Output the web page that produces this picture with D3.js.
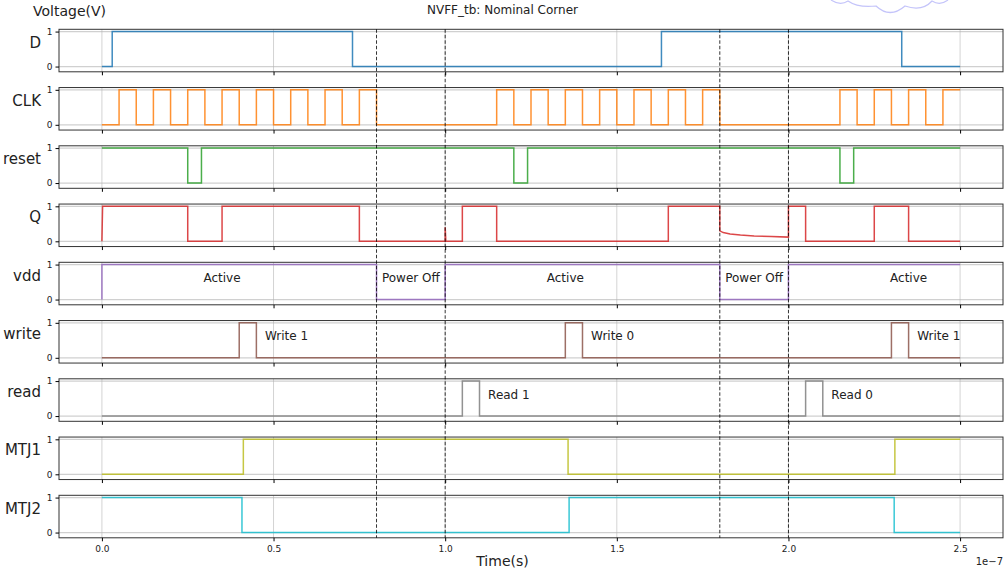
<!DOCTYPE html>
<html lang="en">
<head>
  <meta charset="UTF-8">
  <title>NVFF_tb: Nominal Corner</title>
  <script src="https://d3js.org/d3.v7.min.js"></script>
  <style>
    body { margin: 0; background: #fff; overflow: hidden; }
    text { font-family: "DejaVu Sans", sans-serif; fill: #222; }
  </style>
</head>
<body>
<svg id="chart" width="1005" height="572"></svg>
<script>
const width = 1005, height = 572;

// signal names / colours (matplotlib tab10 order)
const signals = ["D", "CLK", "reset", "Q", "vdd", "write", "read", "MTJ1", "MTJ2"];
const colors = ["#1f77b4", "#ff7f0e", "#2ca02c", "#d62728", "#9467bd", "#8c564b", "#7f7f7f", "#bcbd22", "#17becf"];

// waveforms, time in ns -> voltage. step lists: value holds until next time
const dSteps = [[0, 0], [3, 1], [73, 0], [163, 1], [233, 0], [250, 0]];
const clkSteps = [[0, 0], [5, 1], [10, 0], [15, 1], [20, 0], [25, 1], [30, 0], [35, 1], [40, 0], [45, 1], [50, 0],
  [55, 1], [60, 0], [65, 1], [70, 0], [75, 1], [80, 0], [115, 1], [120, 0], [125, 1], [130, 0], [135, 1], [140, 0],
  [145, 1], [150, 0], [155, 1], [160, 0], [165, 1], [170, 0], [175, 1], [180, 0], [215, 1], [220, 0], [225, 1],
  [230, 0], [235, 1], [240, 0], [245, 1], [250, 1]];
const resetSteps = [[0, 1], [25, 0], [29, 1], [120, 0], [124, 1], [215, 0], [219, 1], [250, 1]];
// Q has an analog decay while power is off, so it is a plain point list
const qPoints = [[0, 0], [0.2, 1], [25, 1], [25, 0], [35, 0], [35, 1], [75, 1], [75, 0], [100, 0], [100, 0.4],
  [100.2, 0], [105, 0], [105, 1], [115, 1], [115, 0], [165, 0], [165, 1], [180, 1], [180, 0.3], [181, 0.25],
  [183, 0.21], [186, 0.18], [190, 0.155], [195, 0.135], [200, 0.12], [200, 1], [205, 1], [205, 0], [225, 0],
  [225, 1], [235, 1], [235, 0], [250, 0]];
const vddSteps = [[0, 0], [0, 1], [80, 0], [100, 1], [180, 0], [200, 1], [250, 1]];
const writeSteps = [[0, 0], [40, 1], [45, 0], [135, 1], [140, 0], [230, 1], [235, 0], [250, 0]];
const readSteps = [[0, 0], [105, 1], [110, 0], [205, 1], [210, 0], [250, 0]];
const mtj1Steps = [[0, 0], [41.2, 1], [135.8, 0], [231, 1], [250, 1]];
const mtj2Steps = [[0, 1], [40.8, 0], [136.1, 1], [230.8, 0], [250, 0]];

const waves = [dSteps, clkSteps, resetSteps, qPoints, vddSteps, writeSteps, readSteps, mtj1Steps, mtj2Steps];

const powerEdges = [80, 100, 180, 200];
const xTicks = [0, 50, 100, 150, 200, 250];
const xTickLabels = ["0.0", "0.5", "1.0", "1.5", "2.0", "2.5"];
const yTicks = [0, 1];

// annotations: [text, time]
const vddNotes = [["Active", 35], ["Power Off", 90], ["Active", 135], ["Power Off", 190], ["Active", 235]];
const writeNotes = [["Write 1", 47.5], ["Write 0", 142.5], ["Write 1", 237.5]];
const readNotes = [["Read 1", 112.5], ["Read 0", 212.5]];

const svg = d3.select("#chart");

const left = 59, right = 1003;
const top0 = 29.3, step = 58.25, panelH = 42.5;
const figCenter = 502.5;

const x = d3.scaleLinear().domain([-12.5, 262.5]).range([left, right]);

// faint cloud doodle at the top edge
svg.append("path")
  .attr("d", "M831,0 Q840,6 848,1 Q858,8 876,6 Q890,19 905,6 Q922,12 932,1 Q940,6 948,0")
  .attr("fill", "none")
  .attr("stroke", "#c4c4fa")
  .attr("stroke-width", 1.2);

signals.forEach((name, i) => {
  const top = top0 + i * step;
  const y = d3.scaleLinear().domain([-0.15, 1.065]).range([top + panelH, top]);
  const g = svg.append("g");

  // grid
  g.selectAll(".vg").data(xTicks).join("line")
    .attr("x1", d => x(d)).attr("x2", d => x(d))
    .attr("y1", top).attr("y2", top + panelH)
    .attr("stroke", "#b0b0b0").attr("stroke-opacity", 0.7).attr("stroke-width", 0.8);
  g.selectAll(".hg").data(yTicks).join("line")
    .attr("x1", left).attr("x2", right)
    .attr("y1", d => y(d)).attr("y2", d => y(d))
    .attr("stroke", "#b0b0b0").attr("stroke-opacity", 0.6).attr("stroke-width", 1.2);

  // waveform
  const line = d3.line()
    .x(d => x(d[0])).y(d => y(d[1]))
    .curve(name === "Q" ? d3.curveLinear : d3.curveStepAfter);
  g.append("path")
    .datum(waves[i])
    .attr("d", line)
    .attr("fill", "none")
    .attr("stroke", colors[i])
    .attr("stroke-opacity", 0.85)
    .attr("stroke-width", 1.5);

  // frame
  g.append("rect")
    .attr("x", left).attr("y", top)
    .attr("width", right - left).attr("height", panelH)
    .attr("fill", "none").attr("stroke", "#333").attr("stroke-width", 1);

  // y axis
  const yAxis = d3.axisLeft(y).tickValues(yTicks).tickFormat(d3.format("d")).tickSize(3.5).tickPadding(3);
  const ya = g.append("g").attr("transform", `translate(${left},0)`).call(yAxis);
  ya.select(".domain").remove();
  ya.selectAll("text").style("font-size", "9px");

  // x axis ticks on every panel, labels only on last
  const xAxis = d3.axisBottom(x).tickValues(xTicks).tickSize(3.5).tickPadding(4)
    .tickFormat((d, k) => i === signals.length - 1 ? xTickLabels[k] : "");
  const xa = g.append("g").attr("transform", `translate(0,${top + panelH})`).call(xAxis);
  xa.select(".domain").remove();
  xa.selectAll("text").style("font-size", "9px");

  // panel label
  g.append("text")
    .attr("x", 41).attr("y", top + panelH / 2 - 3)
    .attr("text-anchor", "end")
    .style("font-size", "15px")
    .text(name);

  const notes = name === "vdd" ? vddNotes : name === "write" ? writeNotes : name === "read" ? readNotes : [];
  g.selectAll(".note").data(notes).join("text")
    .attr("x", d => x(d[1]))
    .attr("y", y(0.5))
    .attr("text-anchor", name === "vdd" ? "middle" : "start")
    .style("font-size", "12px")
    .text(d => d[0]);
});

// power on/off markers across all panels
svg.selectAll(".pw").data(powerEdges).join("line")
  .attr("x1", d => x(d)).attr("x2", d => x(d))
  .attr("y1", top0).attr("y2", top0 + 8 * step + panelH)
  .attr("stroke", "#000").attr("stroke-opacity", 0.8)
  .attr("stroke-width", 1).attr("stroke-dasharray", "3.5,2");

svg.append("text").attr("x", figCenter).attr("y", 14)
  .attr("text-anchor", "middle").style("font-size", "12px").text("NVFF_tb: Nominal Corner");
svg.append("text").attr("x", 33).attr("y", 16)
  .style("font-size", "14px").text("Voltage(V)");
svg.append("text").attr("x", figCenter).attr("y", 566)
  .attr("text-anchor", "middle").style("font-size", "14px").text("Time(s)");
svg.append("text").attr("x", right).attr("y", 565)
  .attr("text-anchor", "end").style("font-size", "10px").text("1e\u22127");
</script>
</body>
</html>
